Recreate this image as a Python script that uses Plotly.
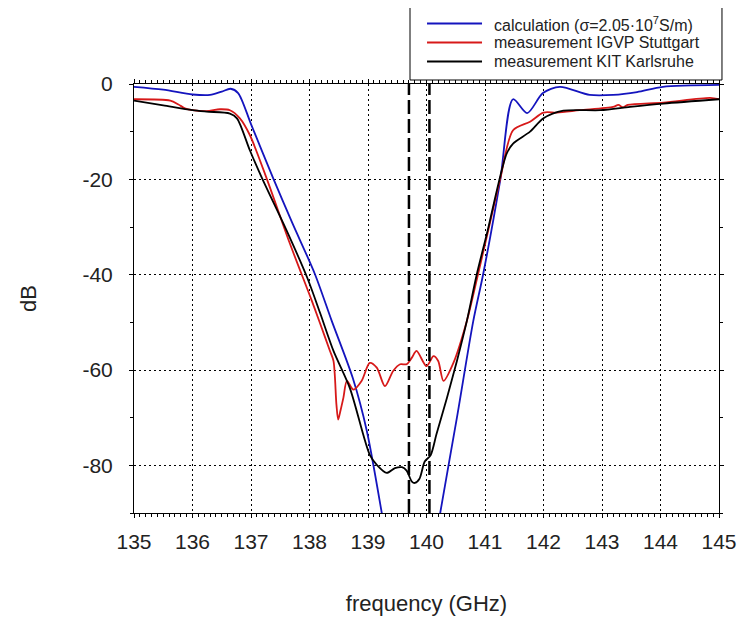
import plotly.graph_objects as go

# ---- data ----
calc_f = [135.0, 135.5, 136.0, 136.3, 136.5, 136.65, 136.78, 137.0, 137.38, 137.7, 138.09, 138.38,
          138.74, 138.98, 139.24, 139.32,
          140.16, 140.23, 140.52, 140.80, 140.97, 141.26, 141.48, 141.72, 141.99, 142.28, 142.79,
          143.19, 143.6, 144.04, 145.0]
calc_db = [-0.6, -1.2, -2.2, -2.3, -1.6, -1.0, -1.9, -8.4, -19.8, -29.0, -39.8, -49.7,
           -61.7, -72.8, -90.3, -96.0,
           -96.0, -90.3, -70.0, -49.7, -39.8, -20.2, -3.2, -6.1, -1.9, -0.6, -2.3,
           -2.3, -1.7, -0.6, -0.2]

igvp_f = [135.0, 135.62, 135.76, 135.87, 136.0, 136.24, 136.47, 136.64, 136.81, 136.98, 137.27,
          137.65, 138.04, 138.18, 138.35, 138.41, 138.46, 138.49, 138.53, 138.58, 138.64, 138.75,
          138.89, 139.03, 139.15, 139.29, 139.43, 139.55, 139.66, 139.75, 139.83, 140.0, 140.12,
          140.2, 140.29, 140.46, 140.69, 140.86, 141.05, 141.26, 141.48, 141.77, 142.0, 142.23,
          142.62, 143.19, 143.28, 143.36, 143.44, 144.05, 144.85, 145.0]
igvp_db = [-3.2, -3.5, -4.3, -5.1, -5.5, -5.7, -5.3, -5.5, -7.2, -10.7, -19.9,
           -33.0, -45.5, -50.2, -56.0, -58.1, -67.2, -70.4, -68.5, -65.8, -62.3, -64.1,
           -62.3, -58.5, -59.5, -63.4, -60.2, -58.8, -58.8, -57.4, -56.0, -59.2, -57.1,
           -58.1, -62.3, -58.5, -49.7, -41.0, -31.0, -19.9, -9.7, -7.9, -6.0, -6.0,
           -5.5, -4.8, -4.4, -4.9, -4.4, -3.9, -2.9, -3.2]

kit_f = [135.0, 135.5, 136.0, 136.24, 136.64, 136.76, 136.98, 137.19, 137.6, 137.96, 138.18, 138.41,
         138.69, 139.03, 139.15, 139.32, 139.46, 139.58, 139.66, 139.75, 139.80, 139.88, 139.97,
         140.07, 140.17, 140.35, 140.52, 140.69, 140.86, 141.05, 141.23, 141.37, 141.48, 141.77,
         142.0, 142.34, 142.97, 143.48, 144.05, 145.0]
kit_db = [-3.5, -4.5, -5.5, -5.8, -6.2, -7.2, -13.9, -19.8, -30.5, -40.6, -48.0, -56.0,
          -63.8, -77.8, -79.9, -81.6, -80.6, -80.4, -81.1, -83.4, -83.7, -82.8, -79.2,
          -77.9, -73.5, -65.8, -58.1, -49.7, -39.9, -30.5, -20.9, -14.6, -12.5, -10.0,
          -7.2, -5.6, -5.5, -4.8, -4.1, -3.2]

marker_f = [139.7, 140.05]

x_ticks = [135, 136, 137, 138, 139, 140, 141, 142, 143, 144, 145]
y_ticks = [0, -20, -40, -60, -80]

series_names = ["calculation (σ=2.05·10<sup>7</sup>S/m)",
                "measurement IGVP Stuttgart",
                "measurement KIT Karlsruhe"]
series_x = [calc_f, igvp_f, kit_f]
series_y = [calc_db, igvp_db, kit_db]
series_colors = ["rgb(20,20,190)", "rgb(215,25,25)", "rgb(0,0,0)"]

FONT = "Liberation Sans, Arial, sans-serif"
TXT = "#222"

fig = go.Figure()
for name, fx, fy, col in zip(series_names, series_x, series_y, series_colors):
    fig.add_trace(go.Scatter(x=fx, y=fy, mode="lines", name=name, showlegend=False,
                             line=dict(color=col, width=1.8, shape="spline", smoothing=0.8)))

for mf in marker_f:
    fig.add_shape(type="line", xref="x", yref="paper", x0=mf, x1=mf, y0=0, y1=1,
                  line=dict(color="black", width=2.5, dash="14px,5px"))

# ---- legend box (drawn above the plot area, in paper units) ----
LEG_X0, LEG_X1, LEG_Y0, LEG_Y1 = 0.4718, 1.0051, 1.0093, 1.1841
ROW_Y0, ROW_STEP = 1.1410, 0.0443
SAMPLE_X0, SAMPLE_X1, TEXT_X = 0.5009, 0.5949, 0.6137
fig.add_shape(type="rect", xref="paper", yref="paper", x0=LEG_X0, x1=LEG_X1, y0=LEG_Y0, y1=LEG_Y1,
              line=dict(color="black", width=1), fillcolor="white", layer="above")
for i, (name, col) in enumerate(zip(series_names, series_colors)):
    ry = ROW_Y0 - i * ROW_STEP
    fig.add_shape(type="line", xref="paper", yref="paper", x0=SAMPLE_X0, x1=SAMPLE_X1, y0=ry, y1=ry,
                  line=dict(color=col, width=2), layer="above")
    fig.add_annotation(xref="paper", yref="paper", x=TEXT_X, y=ry, text=name, showarrow=False,
                       xanchor="left", yanchor="middle", borderpad=0,
                       font=dict(size=16, family=FONT, color=TXT))

# page body adds an 8px offset, so the figure is 8px smaller and margins shifted
fig.update_layout(
    width=737, height=610,
    margin=dict(l=126, r=26, t=76, b=105, autoexpand=False),
    paper_bgcolor="white", plot_bgcolor="white",
    font=dict(family=FONT, color=TXT),
    showlegend=False,
)

fig.update_xaxes(
    range=[135, 145], tickvals=x_ticks, ticktext=[str(t) for t in x_ticks],
    showgrid=True, gridcolor="black", gridwidth=1, griddash="2px,3px",
    showline=True, linecolor="black", linewidth=1, mirror="allticks",
    ticks="outside", ticklen=4, tickcolor="black", tickangle=0,
    minor=dict(dtick=0.1, ticks="outside", ticklen=3, tickcolor="black", showgrid=False),
    tickfont=dict(size=21, family=FONT, color=TXT), ticklabelstandoff=6,
    zeroline=False, automargin=False,
    title=dict(text="frequency (GHz)", font=dict(size=22, family=FONT, color=TXT), standoff=43),
)
fig.update_yaxes(
    range=[-90, 0], tickvals=y_ticks, ticktext=[str(t) for t in y_ticks],
    showgrid=True, gridcolor="black", gridwidth=1, griddash="2px,3px",
    showline=True, linecolor="black", linewidth=1, mirror="allticks",
    ticks="outside", ticklen=4, tickcolor="black",
    minor=dict(dtick=10, ticks="outside", ticklen=3, tickcolor="black", showgrid=False),
    tickfont=dict(size=21, family=FONT, color=TXT), ticklabelstandoff=12,
    zeroline=False, automargin=False,
    title=dict(text="dB", font=dict(size=22, family=FONT, color=TXT), standoff=39),
)

fig.write_html("out.html")
